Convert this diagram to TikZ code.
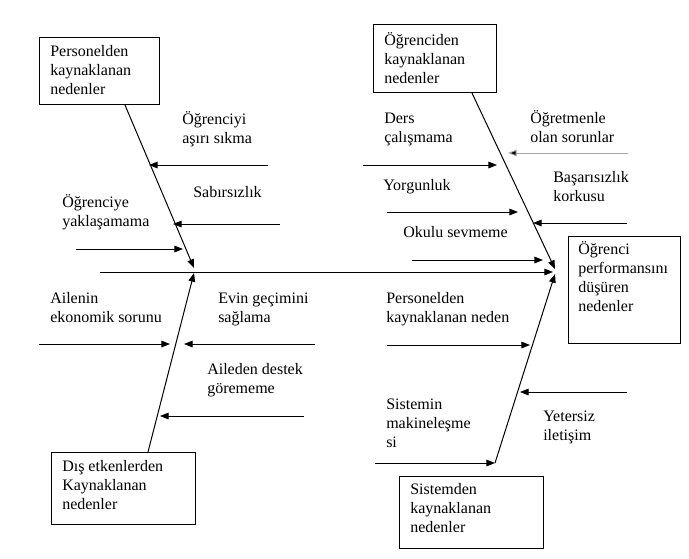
\documentclass[tikz,border=0pt]{standalone}
\usepackage{fontspec}
\setmainfont{Liberation Serif}
\usetikzlibrary{arrows.meta}

\begin{document}
\begin{tikzpicture}[
    x=0.75pt, y=-0.75pt,
    >={Triangle[length=6.5pt, width=5pt]},
    every node/.style={font=\fontsize{12}{14.2}\selectfont},
    box/.style={draw, line width=0.8pt, anchor=north west, inner sep=0pt},
    txt/.style={anchor=base west, align=left, inner sep=0pt},
    bone/.style={->, line width=0.75pt},
    arr/.style={->, line width=0.75pt},
    faint/.style={arr, draw=black!35, -{Triangle[length=6.5pt, width=5pt, fill=black]}},
]
\useasboundingbox (0,0) rectangle (689,558);

% === Cause boxes and effect box (text placed at its last baseline) ===
\node[box, minimum width=90pt, minimum height=50.25pt] (personel) at (39,37) {};
\node[txt] (personel_txt) at (50,94) {Personelden\\kaynaklanan\\nedenler};

\node[box, minimum width=92.25pt, minimum height=51pt] (ogrenci) at (373,24) {};
\node[txt] (ogrenci_txt) at (384,83) {Öğrenciden\\kaynaklanan\\nedenler};

\node[box, minimum width=84pt, minimum height=80.25pt] (effect) at (568,236) {};
\node[txt] (effect_txt) at (578,311) {Öğrenci\\performansını\\düşüren\\nedenler};

\node[box, minimum width=108pt, minimum height=54pt] (dis) at (51,452) {};
\node[txt] (dis_txt) at (62,509) {Dış etkenlerden\\Kaynaklanan\\nedenler};

\node[box, minimum width=108pt, minimum height=54pt] (sistem) at (399,476) {};
\node[txt] (sistem_txt) at (410,532) {Sistemden\\kaynaklanan\\nedenler};

% === Spine and main bones ===
\coordinate (spine_start) at (100,272);
\coordinate (head) at (553,272);
\coordinate (join_tl) at (194,268);
\coordinate (join_bl) at (194,273);
\coordinate (join_tr) at (555,269);
\coordinate (join_br) at (555,274);
\coordinate (bone_br_start) at (495,463);

\draw[bone] (spine_start) -- (head);
\draw[bone] (125,0 |- personel.south) -- (join_tl);
\draw[bone] (472,0 |- ogrenci.south) -- (join_tr);
\draw[bone] (148,0 |- dis.north) -- (join_bl);
\draw[bone] (bone_br_start) -- (join_br);

% === Personelden kaynaklanan (top left) ===
\node[txt] (sikma) at (182,143) {Öğrenciyi\\aşırı sıkma};
\node[txt] (sabir) at (193,197) {Sabırsızlık};
\node[txt] (yaklas) at (62,226) {Öğrenciye\\yaklaşamama};
\coordinate (sikma_from) at (268,165);  \coordinate (sikma_to) at (149,165);
\coordinate (sabir_from) at (280,224);  \coordinate (sabir_to) at (173,224);
\coordinate (yaklas_from) at (76,249);  \coordinate (yaklas_to) at (183,249);
\draw[arr] (sikma_from) -- (sikma_to);
\draw[arr] (sabir_from) -- (sabir_to);
\draw[arr] (yaklas_from) -- (yaklas_to);

% === Öğrenciden kaynaklanan (top right) ===
\node[txt] (ders) at (384,142) {Ders\\çalışmama};
\node[txt] (ogretmen) at (530,142) {Öğretmenle\\olan sorunlar};
\node[txt] (yorgun) at (383,190) {Yorgunluk};
\node[txt] (basari) at (553,201) {Başarısızlık\\korkusu};
\node[txt] (okul) at (403,237) {Okulu sevmeme};
\coordinate (ders_from) at (363,165);      \coordinate (ders_to) at (497,165);
\coordinate (ogretmen_from) at (628,153);  \coordinate (ogretmen_to) at (508,153);
\coordinate (yorgun_from) at (387,212);    \coordinate (yorgun_to) at (518,212);
\coordinate (basari_from) at (627,223);    \coordinate (basari_to) at (533,223);
\coordinate (okul_from) at (412,260);      \coordinate (okul_to) at (543,260);
\draw[arr] (ders_from) -- (ders_to);
\draw[faint] (ogretmen_from) -- (ogretmen_to);
\draw[arr] (yorgun_from) -- (yorgun_to);
\draw[arr] (basari_from) -- (basari_to);
\draw[arr] (okul_from) -- (okul_to);

% === Dış etkenlerden kaynaklanan (bottom left) ===
\node[txt] (ekonomi) at (50,322) {Ailenin\\ekonomik sorunu};
\node[txt] (gecim) at (218,322) {Evin geçimini\\sağlama};
\node[txt] (destek) at (207,393) {Aileden destek\\görememe};
\coordinate (ekonomi_from) at (39,344);  \coordinate (ekonomi_to) at (170,344);
\coordinate (gecim_from) at (315,344);   \coordinate (gecim_to) at (184,344);
\coordinate (destek_from) at (304,416);  \coordinate (destek_to) at (160,416);
\draw[arr] (ekonomi_from) -- (ekonomi_to);
\draw[arr] (gecim_from) -- (gecim_to);
\draw[arr] (destek_from) -- (destek_to);

% === Sistemden kaynaklanan (bottom right) ===
\node[txt] (pers_neden) at (386,322) {Personelden\\kaynaklanan neden};
\node[txt] (iletisim) at (543,440) {Yetersiz\\iletişim};
\node[txt] (makine) at (386,447) {Sistemin\\makineleşme\\si};
\coordinate (pers_neden_from) at (387,345);  \coordinate (pers_neden_to) at (530,345);
\coordinate (iletisim_from) at (627,392);    \coordinate (iletisim_to) at (520,392);
\coordinate (makine_from) at (375,463);
\draw[arr] (pers_neden_from) -- (pers_neden_to);
\draw[arr] (iletisim_from) -- (iletisim_to);
\draw[arr] (makine_from) -- (bone_br_start);

\end{tikzpicture}
\end{document}
